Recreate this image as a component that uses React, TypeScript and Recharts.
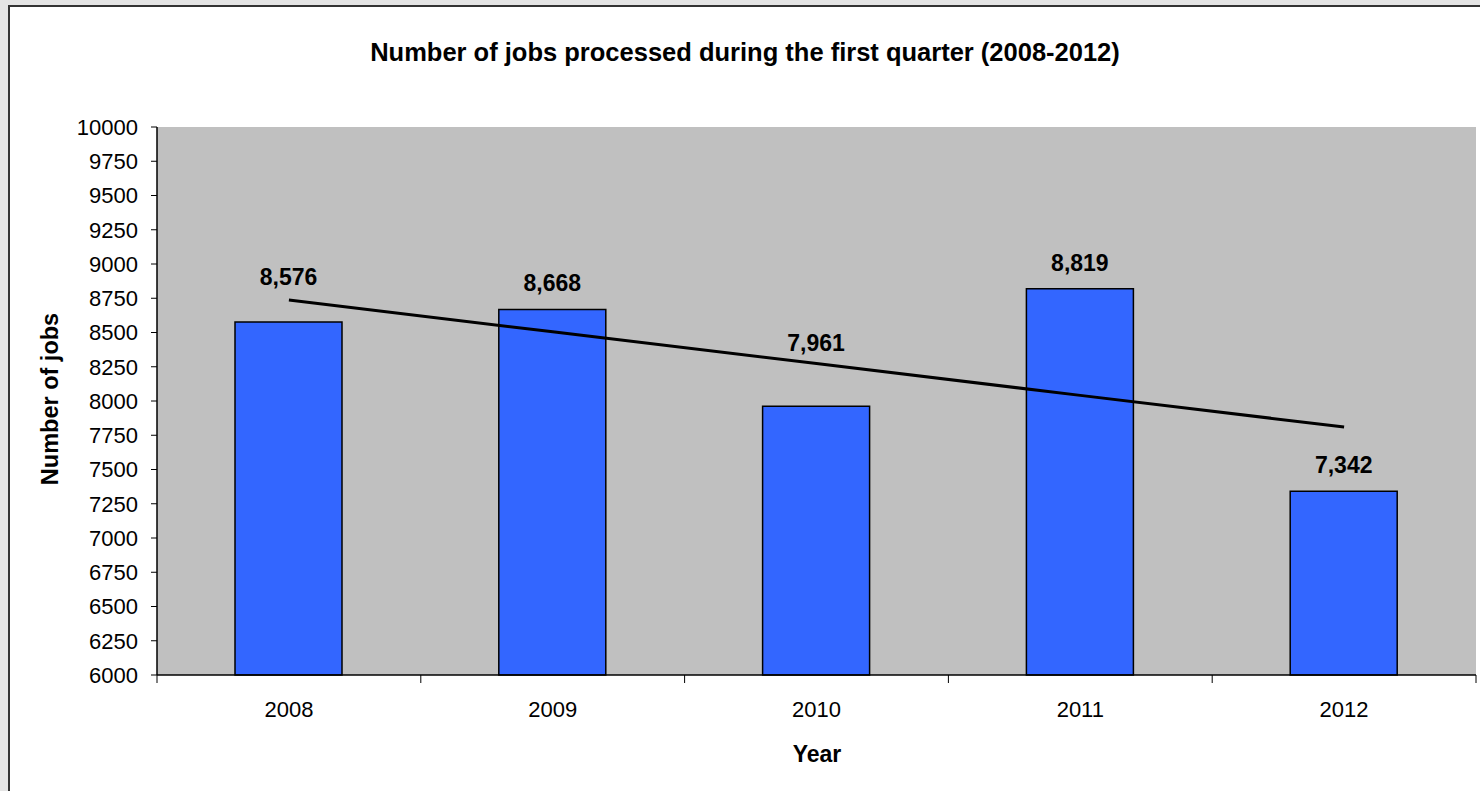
import React from "react";
import {
  ComposedChart,
  Bar,
  Line,
  XAxis,
  YAxis,
  CartesianGrid,
  LabelList,
} from "recharts";

// values
const years = ["2008", "2009", "2010", "2011", "2012"];
const jobs = [8576, 8668, 7961, 8819, 7342];
const trend = [8737, 8505, 8273, 8041, 7810];
const yTicks = [
  6000, 6250, 6500, 6750, 7000, 7250, 7500, 7750, 8000, 8250, 8500, 8750,
  9000, 9250, 9500, 9750, 10000,
];

const data = years.map((year, i) => ({ year, jobs: jobs[i], trend: trend[i] }));

const FONT = "'Liberation Sans', Arial, sans-serif";
const W = 1480;
const H = 791;
const PLOT_LEFT = 157;
const PLOT_RIGHT = 1476;
const HALF_BAND = (PLOT_RIGHT - PLOT_LEFT) / years.length / 2;

// labels that were nudged up in the original to clear the trend line
const LABEL_LIFT: Record<string, number> = { "2008": 45, "2010": 63 };
const DEFAULT_LIFT = 26;

function YearTick(props: any) {
  const { x, y, payload, index } = props;
  const half = (payload && payload.offset) || HALF_BAND;
  return (
    <g>
      <line x1={x - half} x2={x - half} y1={y} y2={y + 8} stroke="#000" />
      {index === years.length - 1 && (
        <line x1={x + half} x2={x + half} y1={y} y2={y + 8} stroke="#000" />
      )}
      <text
        x={x}
        y={y + 42}
        textAnchor="middle"
        fontSize={22}
        fontFamily={FONT}
        fill="#000"
      >
        {payload.value}
      </text>
    </g>
  );
}

function ValueLabel(props: any) {
  const { x, y, width, value, index } = props;
  const lift = LABEL_LIFT[years[index]] ?? DEFAULT_LIFT;
  return (
    <text
      x={Number(x) + Number(width) / 2}
      y={Number(y) - lift}
      textAnchor="middle"
      dominantBaseline="central"
      fontSize={23}
      fontWeight="bold"
      fontFamily={FONT}
      fill="#000"
    >
      {Number(value).toLocaleString("en-US")}
    </text>
  );
}

export default function App() {
  return (
    <div
      style={{
        position: "absolute",
        left: 0,
        top: 0,
        width: W,
        height: H,
        overflow: "hidden",
        background: "#e4e4e4",
        fontFamily: FONT,
      }}
    >
      <div
        style={{
          position: "absolute",
          left: 8,
          top: 5,
          width: W,
          height: H,
          background: "#fff",
          borderLeft: "2px solid #333",
          borderTop: "2px solid #333",
        }}
      />
      <div style={{ position: "absolute", left: 0, top: 0 }}>
        <ComposedChart
          width={W}
          height={H}
          data={data}
          margin={{ top: 127, right: W - PLOT_RIGHT, bottom: 86, left: 0 }}
        >
          <CartesianGrid horizontal={false} vertical={false} fill="#c0c0c0" />
          <XAxis
            dataKey="year"
            height={30}
            tickSize={0}
            tickMargin={0}
            tickLine={false}
            axisLine={{ stroke: "#000", strokeWidth: 1.5 }}
            tick={<YearTick />}
            interval={0}
          />
          <XAxis
            xAxisId="top"
            dataKey="year"
            orientation="top"
            height={0}
            tick={false}
            tickLine={false}
            axisLine={{ stroke: "#808080", strokeWidth: 2 }}
          />
          <YAxis
            width={PLOT_LEFT}
            domain={[6000, 10000]}
            ticks={yTicks}
            interval={0}
            tickSize={6}
            tickMargin={13}
            tickLine={{ stroke: "#000" }}
            axisLine={{ stroke: "#000", strokeWidth: 1.5 }}
            tick={{ fill: "#000", fontSize: 22, fontFamily: FONT }}
          />
          <YAxis
            yAxisId="right"
            orientation="right"
            width={0}
            domain={[6000, 10000]}
            tick={false}
            tickLine={false}
            axisLine={{ stroke: "#808080", strokeWidth: 2 }}
          />
          <Bar
            dataKey="jobs"
            barSize={107}
            fill="#3366ff"
            stroke="#000"
            strokeWidth={1.5}
            isAnimationActive={false}
          >
            <LabelList dataKey="jobs" content={<ValueLabel />} />
          </Bar>
          <Line
            dataKey="trend"
            type="linear"
            stroke="#000"
            strokeWidth={3}
            dot={false}
            activeDot={false}
            isAnimationActive={false}
          />
        </ComposedChart>
      </div>
      <svg
        width={W}
        height={H}
        style={{ position: "absolute", left: 0, top: 0, pointerEvents: "none" }}
      >
        <text
          x={745}
          y={52}
          textAnchor="middle"
          dominantBaseline="central"
          fontSize={25.5}
          fontWeight="bold"
          fontFamily={FONT}
          fill="#000"
        >
          Number of jobs processed during the first quarter (2008-2012)
        </text>
        <text
          x={817}
          y={754}
          textAnchor="middle"
          dominantBaseline="central"
          fontSize={23}
          fontWeight="bold"
          fontFamily={FONT}
          fill="#000"
        >
          Year
        </text>
        <text
          transform="translate(50 399) rotate(-90)"
          textAnchor="middle"
          dominantBaseline="central"
          fontSize={23.5}
          fontWeight="bold"
          fontFamily={FONT}
          fill="#000"
        >
          Number of jobs
        </text>
      </svg>
    </div>
  );
}
